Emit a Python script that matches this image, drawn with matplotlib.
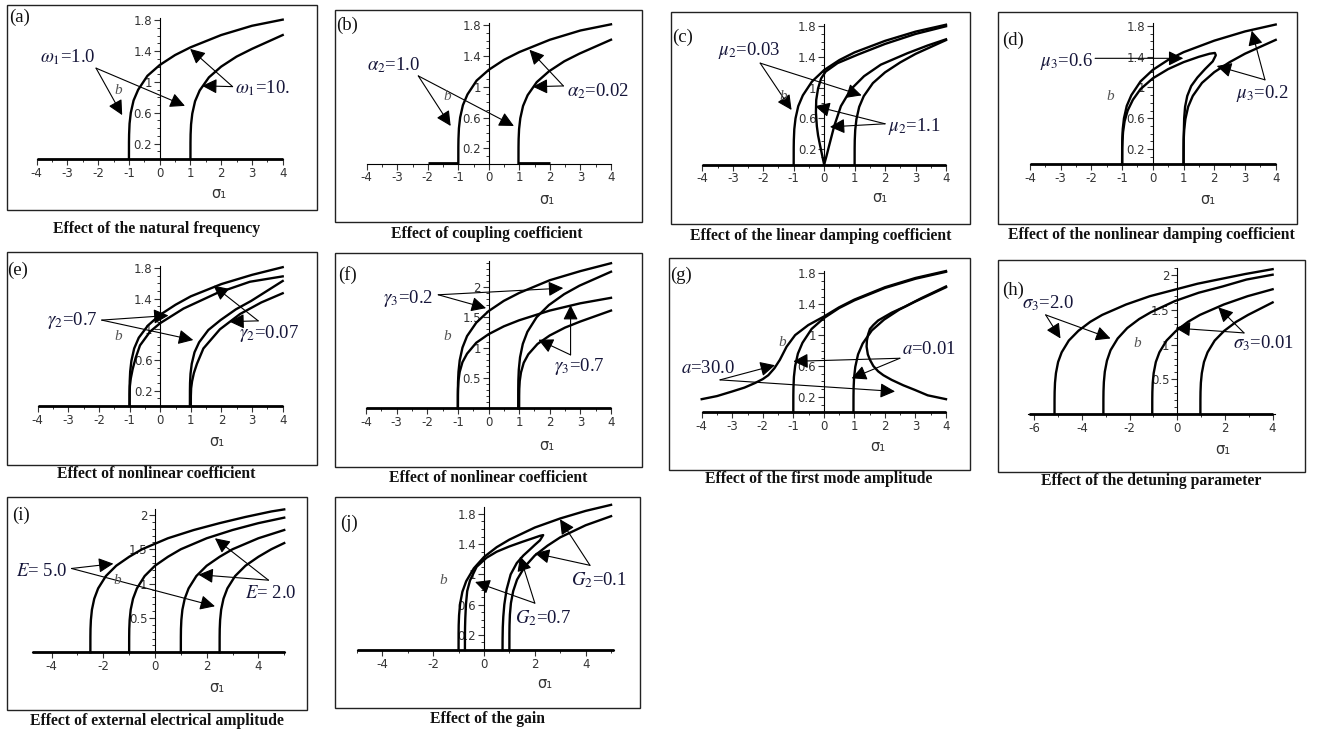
import matplotlib
matplotlib.use('Agg')
import matplotlib.pyplot as plt
from matplotlib.patches import Rectangle
from matplotlib.ticker import MultipleLocator, FixedLocator, FixedFormatter

W, H = 1317, 731
plt.rcParams['mathtext.fontset'] = 'stix'
plt.rcParams['axes.unicode_minus'] = False
plt.rcParams['font.family'] = 'DejaVu Sans'

SERIF = 'Liberation Serif'
INK = '#16163a'
TICK = '#333333'

# ---- frequency response curves, sigma_1 vs b ----
# (a) natural frequency
a_sig_l = [-1.0, -0.999, -0.995, -0.98, -0.94, -0.85, -0.7, -0.4, 0.0, 0.5, 1.0, 2.0, 3.0, 4.0]
a_b_l = [0.0, 0.22, 0.32, 0.46, 0.60, 0.76, 0.90, 1.08, 1.22, 1.35, 1.45, 1.61, 1.73, 1.81]
a_sig_r = [1.0, 1.001, 1.005, 1.02, 1.06, 1.15, 1.3, 1.6, 2.0, 2.5, 3.0, 4.0]
a_b_r = [0.0, 0.21, 0.32, 0.45, 0.59, 0.75, 0.89, 1.06, 1.20, 1.33, 1.43, 1.61]
a_base = [-4.0, 4.0]

# (b) coupling coefficient
b_sig_l = [-1.0, -0.999, -0.995, -0.98, -0.94, -0.85, -0.7, -0.4, 0.0, 0.5, 1.0, 2.0, 3.0, 4.0]
b_b_l = [0.0, 0.22, 0.32, 0.46, 0.60, 0.76, 0.90, 1.08, 1.22, 1.35, 1.45, 1.61, 1.73, 1.81]
b_sig_r = [0.97, 0.971, 0.975, 0.99, 1.03, 1.12, 1.27, 1.57, 1.97, 2.47, 2.97, 4.0]
b_b_r = [0.0, 0.21, 0.32, 0.45, 0.59, 0.75, 0.89, 1.06, 1.20, 1.33, 1.43, 1.61]
b_base_l = [-2.0, -1.0]
b_base_r = [0.97, 2.0]

# (c) linear damping coefficient
c_sig_l = [-1.0, -0.999, -0.995, -0.98, -0.94, -0.85, -0.7, -0.4, 0.0, 0.5, 1.0, 2.0, 3.0, 4.0]
c_b_l = [0.0, 0.22, 0.32, 0.46, 0.60, 0.76, 0.90, 1.08, 1.23, 1.36, 1.46, 1.61, 1.73, 1.82]
c_sig_r = [1.0, 1.001, 1.005, 1.02, 1.06, 1.15, 1.3, 1.6, 2.0, 2.5, 3.0, 4.0]
c_b_r = [0.0, 0.21, 0.32, 0.45, 0.59, 0.75, 0.89, 1.06, 1.20, 1.33, 1.44, 1.62]
c_sig_in_l = [0.0, -0.06, -0.13, -0.2, -0.24, -0.27, -0.26, -0.2, -0.1, 0.05, 0.44, 1.1, 2.0, 3.0, 4.0]
c_b_in_l = [0.0, 0.11, 0.24, 0.38, 0.5, 0.68, 0.84, 0.99, 1.12, 1.21, 1.32, 1.43, 1.57, 1.70, 1.80]
c_sig_in_r = [0.0, 0.07, 0.16, 0.33, 0.55, 0.88, 1.31, 1.86, 2.74, 3.4, 4.0]
c_b_in_r = [0.0, 0.1, 0.24, 0.5, 0.76, 0.98, 1.15, 1.3, 1.45, 1.55, 1.63]
c_base = [-4.0, 4.0]

# (d) nonlinear damping coefficient
d_sig_l = [-1.0, -0.999, -0.995, -0.98, -0.94, -0.85, -0.7, -0.4, 0.0, 0.5, 1.0, 2.0, 3.0, 4.0]
d_b_l = [0.0, 0.22, 0.32, 0.46, 0.60, 0.76, 0.90, 1.08, 1.23, 1.36, 1.46, 1.61, 1.73, 1.82]
d_sig_r = [1.0, 1.001, 1.005, 1.02, 1.06, 1.15, 1.3, 1.6, 2.0, 2.5, 3.0, 4.0]
d_b_r = [0.0, 0.21, 0.32, 0.45, 0.59, 0.75, 0.89, 1.06, 1.20, 1.33, 1.44, 1.62]
d_sig_loop = [-1.0, -0.998, -0.99, -0.97, -0.92, -0.82, -0.65, -0.4, 0.0, 0.5, 1.0, 1.5, 1.85,
              2.02, 2.05, 1.95, 1.7, 1.45, 1.25, 1.12, 1.05, 1.02, 1.005, 1.0]
d_b_loop = [0.0, 0.2, 0.3, 0.42, 0.56, 0.70, 0.84, 0.98, 1.12, 1.24, 1.33, 1.40, 1.44,
            1.45, 1.42, 1.34, 1.24, 1.13, 1.02, 0.89, 0.75, 0.6, 0.35, 0.0]
d_base = [-4.0, 4.0]

# (e) nonlinear coefficient gamma_2
e_sig_l1 = [-1.0, -0.999, -0.995, -0.98, -0.94, -0.85, -0.7, -0.4, 0.0, 0.5, 1.0, 2.0, 3.0, 4.0]
e_b_l1 = [0.0, 0.21, 0.32, 0.45, 0.59, 0.75, 0.89, 1.05, 1.19, 1.32, 1.43, 1.59, 1.71, 1.81]
e_sig_l2 = [-1.0, -0.999, -0.99, -0.96, -0.9, -0.8, -0.66, -0.33, 0.0, 0.76, 1.84, 2.93, 4.0]
e_b_l2 = [0.0, 0.15, 0.26, 0.36, 0.48, 0.63, 0.79, 0.97, 1.08, 1.27, 1.47, 1.62, 1.69]
e_sig_r1 = [0.97, 0.971, 0.975, 0.99, 1.03, 1.12, 1.27, 1.57, 1.97, 2.47, 2.97, 4.0]
e_b_r1 = [0.0, 0.20, 0.30, 0.42, 0.55, 0.70, 0.83, 0.99, 1.12, 1.26, 1.37, 1.63]
e_sig_r2 = [1.0, 1.001, 1.01, 1.04, 1.1, 1.2, 1.41, 1.95, 2.61, 3.3, 4.0]
e_b_r2 = [0.0, 0.13, 0.23, 0.32, 0.43, 0.55, 0.75, 1.0, 1.2, 1.35, 1.47]
e_base = [-4.0, 4.0]

# (f) nonlinear coefficient gamma_3
f_sig_l1 = [-1.0, -0.999, -0.995, -0.98, -0.94, -0.85, -0.7, -0.4, 0.0, 0.5, 1.0, 2.0, 3.0, 4.0]
f_b_l1 = [0.0, 0.28, 0.43, 0.60, 0.79, 1.0, 1.19, 1.41, 1.60, 1.77, 1.90, 2.11, 2.26, 2.39]
f_sig_l2 = [-1.0, -0.999, -0.995, -0.98, -0.94, -0.85, -0.7, -0.4, 0.0, 0.5, 1.0, 2.0, 3.0, 4.0]
f_b_l2 = [0.0, 0.22, 0.32, 0.46, 0.60, 0.76, 0.90, 1.08, 1.22, 1.35, 1.45, 1.61, 1.73, 1.82]
f_sig_r1 = [0.97, 0.971, 0.975, 0.99, 1.03, 1.12, 1.27, 1.57, 1.97, 2.47, 2.97, 4.0]
f_b_r1 = [0.0, 0.30, 0.46, 0.64, 0.84, 1.06, 1.26, 1.50, 1.70, 1.88, 2.02, 2.25]
f_sig_r2 = [1.0, 1.001, 1.005, 1.02, 1.06, 1.15, 1.3, 1.6, 2.0, 2.5, 3.0, 4.0]
f_b_r2 = [0.0, 0.21, 0.32, 0.45, 0.59, 0.75, 0.89, 1.06, 1.20, 1.33, 1.43, 1.61]
f_base = [-4.0, 4.0]

# (g) first mode amplitude
g_sig_l1 = [-1.0, -0.999, -0.995, -0.98, -0.94, -0.85, -0.7, -0.4, 0.0, 0.5, 1.0, 2.0, 3.0, 4.0]
g_b_l1 = [0.0, 0.22, 0.32, 0.46, 0.60, 0.76, 0.90, 1.08, 1.22, 1.35, 1.45, 1.61, 1.73, 1.82]
g_sig_l2 = [-4.0, -3.5, -3.0, -2.6, -2.25, -2.0, -1.82, -1.62, -1.44, -1.22, -0.94, -0.51,
            0.0, 0.5, 1.0, 2.0, 3.0, 4.0]
g_b_l2 = [0.17, 0.21, 0.27, 0.32, 0.38, 0.43, 0.48, 0.57, 0.68, 0.85, 1.0, 1.13,
          1.24, 1.36, 1.46, 1.62, 1.74, 1.83]
g_sig_r1 = [0.97, 0.971, 0.975, 0.99, 1.03, 1.12, 1.27, 1.57, 1.97, 2.47, 2.97, 4.0]
g_b_r1 = [0.0, 0.21, 0.32, 0.45, 0.59, 0.75, 0.89, 1.06, 1.20, 1.33, 1.43, 1.62]
g_sig_r2 = [4.0, 3.4, 2.98, 2.6, 2.22, 1.95, 1.78, 1.62, 1.51, 1.44, 1.4, 1.41, 1.45, 1.51,
            1.62, 1.78, 2.0, 2.22, 2.66, 3.2, 4.0]
g_b_r2 = [0.17, 0.22, 0.29, 0.35, 0.42, 0.48, 0.53, 0.6, 0.68, 0.75, 0.85, 0.93, 1.01, 1.08,
          1.13, 1.19, 1.24, 1.29, 1.37, 1.48, 1.63]
g_base = [-4.0, 4.0]

# (h) detuning parameter sigma_3
h_sig_1 = [-5.15, -5.149, -5.145, -5.13, -5.09, -5.0, -4.85, -4.55, -4.15, -3.65, -3.15,
           -2.15, -1.15, -0.15, 0.85, 1.85, 2.85, 4.0]
h_b_1 = [0.0, 0.21, 0.32, 0.45, 0.59, 0.75, 0.89, 1.06, 1.20, 1.33, 1.43, 1.58, 1.70, 1.79,
         1.88, 1.95, 2.02, 2.09]
h_sig_2 = [-3.1, -3.099, -3.095, -3.08, -3.04, -2.95, -2.8, -2.5, -2.1, -1.6, -1.1, -0.1,
           0.9, 1.9, 2.9, 4.0]
h_b_2 = [0.0, 0.22, 0.33, 0.46, 0.61, 0.77, 0.92, 1.09, 1.24, 1.37, 1.47, 1.63, 1.75, 1.84,
         1.94, 2.01]
h_sig_3 = [-1.05, -1.049, -1.045, -1.03, -0.99, -0.9, -0.75, -0.45, -0.05, 0.45, 0.95, 1.95,
           2.95, 4.0]
h_b_3 = [0.0, 0.21, 0.32, 0.45, 0.59, 0.75, 0.89, 1.06, 1.20, 1.33, 1.43, 1.58, 1.70, 1.80]
h_sig_4 = [0.97, 0.971, 0.975, 0.99, 1.03, 1.12, 1.27, 1.57, 1.97, 2.47, 2.97, 4.0]
h_b_4 = [0.0, 0.21, 0.32, 0.45, 0.59, 0.75, 0.89, 1.06, 1.20, 1.33, 1.43, 1.61]
h_base = [-6.2, 4.0]

# (i) external electrical amplitude
i_sig_1 = [-2.5, -2.499, -2.495, -2.48, -2.44, -2.35, -2.2, -1.9, -1.5, -1.0, -0.5, 0.5, 1.5,
           2.5, 3.5, 4.5, 5.0]
i_b_1 = [0.0, 0.22, 0.34, 0.47, 0.62, 0.78, 0.93, 1.11, 1.26, 1.39, 1.50, 1.66, 1.78, 1.88,
         1.97, 2.05, 2.08]
i_sig_2 = [-1.0, -0.999, -0.995, -0.98, -0.94, -0.85, -0.7, -0.4, 0.0, 0.5, 1.0, 2.0, 3.0, 4.0, 5.0]
i_b_2 = [0.0, 0.22, 0.34, 0.47, 0.62, 0.78, 0.93, 1.11, 1.26, 1.39, 1.50, 1.66, 1.78, 1.88, 1.96]
i_sig_3 = [1.0, 1.001, 1.005, 1.02, 1.06, 1.15, 1.3, 1.6, 2.0, 2.5, 3.0, 4.0, 5.0]
i_b_3 = [0.0, 0.22, 0.34, 0.47, 0.62, 0.78, 0.93, 1.11, 1.26, 1.39, 1.50, 1.66, 1.78]
i_sig_4 = [2.5, 2.501, 2.505, 2.52, 2.56, 2.65, 2.8, 3.1, 3.5, 4.0, 4.5, 5.0]
i_b_4 = [0.0, 0.22, 0.34, 0.47, 0.62, 0.78, 0.93, 1.11, 1.26, 1.39, 1.50, 1.59]
i_base = [-4.77, 5.03]

# (j) gain G_2
j_sig_l = [-1.0, -0.999, -0.995, -0.98, -0.94, -0.85, -0.7, -0.4, 0.0, 0.5, 1.0, 2.0, 3.0, 4.0, 5.0]
j_b_l = [0.0, 0.22, 0.33, 0.46, 0.61, 0.77, 0.91, 1.08, 1.23, 1.36, 1.46, 1.62, 1.74, 1.84, 1.92]
j_sig_r = [1.0, 1.001, 1.005, 1.02, 1.06, 1.15, 1.3, 1.6, 2.0, 2.5, 3.0, 4.0, 5.0]
j_b_r = [0.0, 0.22, 0.33, 0.47, 0.62, 0.78, 0.93, 1.10, 1.25, 1.38, 1.49, 1.65, 1.77]
j_sig_loop = [-0.75, -0.749, -0.745, -0.735, -0.71, -0.66, -0.55, -0.29, 0.1, 0.5, 1.0, 1.5,
              1.94, 2.2, 2.33, 2.2, 2.0, 1.81, 1.55, 1.29, 1.05, 0.89, 0.8, 0.76, 0.74,
              0.732, 0.73]
j_b_loop = [0.0, 0.2, 0.3, 0.42, 0.6, 0.78, 0.92, 1.1, 1.22, 1.30, 1.37, 1.43,
            1.48, 1.51, 1.52, 1.45, 1.39, 1.33, 1.25, 1.15, 1.0, 0.8, 0.6, 0.44, 0.3,
            0.15, 0.0]
j_base = [-5.0, 5.1]

# axis tick labels
x_int = [-4, -3, -2, -1, 0, 1, 2, 3, 4]
x_even6 = [-6, -4, -2, 0, 2, 4]
x_even4 = [-4, -2, 0, 2, 4]
y_t18 = [0.2, 0.6, 1.0, 1.4, 1.8]
y_l18 = ['0.2', '0.6', '1', '1.4', '1.8']
y_t2 = [0.5, 1.0, 1.5, 2.0]
y_l2 = ['0.5', '1', '1.5', '2']

captions = ['Effect of the natural frequency', 'Effect of coupling coefficient',
            'Effect of the linear damping coefficient',
            'Effect of the nonlinear damping coefficient',
            'Effect of nonlinear coefficient', 'Effect of nonlinear coefficient',
            'Effect of the first mode amplitude', 'Effect of the detuning parameter',
            'Effect of external electrical amplitude', 'Effect of the gain']
tags = ['(a)', '(b)', '(c)', '(d)', '(e)', '(f)', '(g)', '(h)', '(i)', '(j)']

fig = plt.figure(figsize=(W / 100, H / 100), dpi=100)


def fx(x):
    return x / W


def fy(y):
    return 1 - y / H


def frame(x0, y0, x1, y1, tag, tag_xy, caption, cap_xy, sig_xy, b_xy):
    fig.add_artist(Rectangle((fx(x0), fy(y1)), (x1 - x0) / W, (y1 - y0) / H,
                             transform=fig.transFigure, fill=False, lw=1.0, ec='#222222'))
    fig.text(fx(tag_xy[0]), fy(tag_xy[1]), tag, family=SERIF, fontsize=13.5,
             ha='left', va='center', color='#111111')
    fig.text(fx(cap_xy[0]), fy(cap_xy[1]), caption, family=SERIF, fontsize=11.3,
             fontweight='bold', ha='center', va='center', color='#111111')
    fig.text(fx(sig_xy[0]), fy(sig_xy[1]), 'σ₁', fontsize=10.5, ha='center', va='center',
             color=TICK)
    fig.text(fx(b_xy[0]), fy(b_xy[1]), 'b', family=SERIF, style='italic', fontsize=11,
             ha='center', va='center', color='#555555')


def panel(xlim, px0, px1, py0, unit, ytop, xmaj, xminor, yt, yl):
    ax = fig.add_axes([fx(px0), fy(py0), (px1 - px0) / W, ytop * unit / H])
    ax.set_xlim(*xlim)
    ax.set_ylim(0, ytop)
    ax.patch.set_visible(False)
    for s in ('top', 'right'):
        ax.spines[s].set_visible(False)
    ax.spines['left'].set_position(('data', 0))
    ax.spines['bottom'].set_position(('data', 0))
    ax.spines['left'].set_linewidth(0.8)
    ax.spines['bottom'].set_linewidth(0.8)
    ax.xaxis.set_major_locator(FixedLocator(xmaj))
    ax.xaxis.set_minor_locator(MultipleLocator(xminor))
    ax.yaxis.set_major_locator(FixedLocator(yt))
    ax.yaxis.set_major_formatter(FixedFormatter(yl))
    ax.yaxis.set_minor_locator(MultipleLocator(0.1))
    ax.tick_params(which='major', length=4, width=0.8, labelsize=8.5, colors=TICK, pad=1.5)
    ax.tick_params(which='minor', length=2.2, width=0.7, colors=TICK)
    return ax


def curve(ax, s, b):
    ax.plot(s, b, color='black', lw=1.7, clip_on=False, solid_joinstyle='round')


def base(ax, s, level=0.0):
    ax.plot(s, [level] * len(s), color='black', lw=2.0, clip_on=False, solid_capstyle='butt')


def label(ax, text, pos, origin, tips):
    ax.text(pos[0], pos[1], text, family=SERIF, fontsize=13.5, color=INK,
            ha='left', va='center', clip_on=False)
    for t in tips:
        ax.annotate('', xy=t, xytext=origin, annotation_clip=False,
                    arrowprops=dict(arrowstyle='-|>,head_length=0.6,head_width=0.3',
                                    mutation_scale=15, color='black', lw=0.8,
                                    shrinkA=0, shrinkB=0))


# (a)
frame(7, 5, 317, 210, tags[0], (9, 17), captions[0], (157, 229), (219, 193), (118, 90))
ax = panel((-4, 4), 36.7, 282.7, 159, 77, 1.83, x_int, 0.5, y_t18, y_l18)
base(ax, a_base)
curve(ax, a_sig_l, a_b_l)
curve(ax, a_sig_r, a_b_r)
label(ax, r'$\omega_1$=1.0', (-3.89, 1.32), (-2.07, 1.18), [(-1.22, 0.57), (0.82, 0.69)])
label(ax, r'$\omega_1$=10.', (2.45, 0.92), (2.37, 0.94), [(0.99, 1.43), (1.38, 0.95)])

# (b)
frame(335, 10, 642, 222, tags[1], (336, 25), captions[1], (487, 234), (547, 200), (447, 97))
ax = panel((-4, 4), 366.7, 611, 163.7, 77, 1.83, x_int, 0.5, y_t18, y_l18)
base(ax, b_base_l, 0.012)
base(ax, b_base_r, 0.012)
curve(ax, b_sig_l, b_b_l)
curve(ax, b_sig_r, b_b_r)
label(ax, r'$\alpha_2$=1.0', (-3.98, 1.28), (-2.31, 1.14), [(-1.25, 0.49), (0.82, 0.49)])
label(ax, r'$\alpha_2$=0.02', (2.57, 0.94), (2.44, 1.01), [(1.33, 1.48), (1.44, 1.0)])

# (c)
frame(671, 12, 970, 224, tags[2], (672, 37), captions[2], (821, 236), (880, 198), (783, 97))
ax = panel((-4, 4), 702.3, 946, 164.5, 76.8, 1.83, x_int, 0.5, y_t18, y_l18)
base(ax, c_base)
curve(ax, c_sig_l, c_b_l)
curve(ax, c_sig_r, c_b_r)
curve(ax, c_sig_in_l, c_b_in_l)
curve(ax, c_sig_in_r, c_b_in_r)
label(ax, r'$\mu_2$=0.03', (-3.47, 1.49), (-2.1, 1.32), [(-1.07, 0.71), (1.23, 0.90)])
label(ax, r'$\mu_2$=1.1', (2.1, 0.49), (2.0, 0.53), [(-0.3, 0.76), (0.19, 0.49)])

# (d)
frame(998, 12, 1297, 224, tags[3], (1002, 40), captions[3], (1151, 235), (1208, 200), (1110, 97))
ax = panel((-4, 4), 1030, 1275.7, 164.3, 76.8, 1.84, x_int, 0.5, y_t18, y_l18)
base(ax, d_base)
curve(ax, d_sig_l, d_b_l)
curve(ax, d_sig_r, d_b_r)
curve(ax, d_sig_loop, d_b_loop)
label(ax, r'$\mu_3$=0.6', (-3.68, 1.34), (-1.88, 1.38), [(0.99, 1.38)])
label(ax, r'$\mu_3$=0.2', (2.7, 0.92), (3.65, 1.10), [(3.22, 1.74), (2.08, 1.28)])

# (e)
frame(7, 252, 317, 465, tags[4], (7, 270), captions[4], (156, 474), (217, 442), (118, 337))
ax = panel((-4, 4), 37.7, 282.7, 406, 76.7, 1.83, x_int, 0.5, y_t18, y_l18)
base(ax, e_base)
curve(ax, e_sig_l1, e_b_l1)
curve(ax, e_sig_l2, e_b_l2)
curve(ax, e_sig_r1, e_b_r1)
curve(ax, e_sig_r2, e_b_r2)
label(ax, r'$\gamma_2$=0.7', (-3.7, 1.12), (-1.91, 1.12), [(0.27, 1.18), (1.08, 0.86)])
label(ax, r'$\gamma_2$=0.07', (2.58, 0.94), (3.2, 1.11), [(1.74, 1.57), (2.26, 1.10)])

# (f)
frame(335, 253, 642, 467, tags[5], (338, 275), captions[5], (488, 478), (547, 445), (447, 337))
ax = panel((-4, 4), 366, 611, 408.3, 60.7, 2.42, x_int, 0.5, y_t2, y_l2)
base(ax, f_base)
curve(ax, f_sig_l1, f_b_l1)
curve(ax, f_sig_l2, f_b_l2)
curve(ax, f_sig_r1, f_b_r1)
curve(ax, f_sig_r2, f_b_r2)
label(ax, r'$\gamma_3$=0.2', (-3.43, 1.81), (-1.64, 1.87), [(2.44, 1.98), (-0.08, 1.65)])
label(ax, r'$\gamma_3$=0.7', (2.14, 0.69), (2.68, 0.88), [(2.68, 1.70), (1.63, 1.13)])

# (g)
frame(669, 258, 970, 470, tags[6], (670, 275), captions[6], (819, 479), (878, 447), (782, 342))
ax = panel((-4, 4), 701.7, 946, 412.3, 77.2, 1.83, x_int, 0.5, y_t18, y_l18)
base(ax, g_base)
curve(ax, g_sig_l1, g_b_l1)
curve(ax, g_sig_l2, g_b_l2)
curve(ax, g_sig_r1, g_b_r1)
curve(ax, g_sig_r2, g_b_r2)
label(ax, r'$a$=30.0', (-4.67, 0.57), (-3.4, 0.42), [(-1.6, 0.61), (2.33, 0.27)])
label(ax, r'$a$=0.01', (2.55, 0.81), (2.49, 0.70), [(-1.0, 0.66), (0.91, 0.44)])

# (h)
frame(998, 260, 1305, 472, tags[7], (1002, 290), captions[7], (1151, 481), (1223, 450), (1137, 343))
ax = panel((-6.25, 4.1), 1028.3, 1275, 414, 69.3, 2.1, x_even6, 1, y_t2, y_l2)
base(ax, h_base)
curve(ax, h_sig_1, h_b_1)
curve(ax, h_sig_2, h_b_2)
curve(ax, h_sig_3, h_b_3)
curve(ax, h_sig_4, h_b_4)
label(ax, r'$\sigma_3$=2.0', (-6.5, 1.6), (-5.52, 1.43), [(-4.9, 1.09), (-2.8, 1.09)])
label(ax, r'$\sigma_3$=0.01', (2.34, 1.02), (2.8, 1.17), [(1.72, 1.54), (-0.07, 1.24)])

# (i)
frame(7, 497, 307, 710, tags[8], (12, 515), captions[8], (157, 721), (217, 687), (117, 580))
ax = panel((-4.77, 5.03), 31.7, 285, 652.3, 68.7, 2.09, x_even4, 1, y_t2, y_l2)
base(ax, i_base)
curve(ax, i_sig_1, i_b_1)
curve(ax, i_sig_2, i_b_2)
curve(ax, i_sig_3, i_b_3)
curve(ax, i_sig_4, i_b_4)
label(ax, r'$E$= 5.0', (-5.38, 1.17), (-3.23, 1.22), [(-1.61, 1.29), (2.32, 0.67)])
label(ax, r'$E$= 2.0', (3.48, 0.86), (4.39, 1.05), [(2.32, 1.66), (1.68, 1.13)])

# (j)
frame(335, 497, 640, 708, tags[9], (340, 523), captions[9], (488, 719), (545, 683), (443, 580))
ax = panel((-5, 5.1), 356.9, 613.6, 650, 75.6, 1.89, x_even4, 1, y_t18, y_l18)
base(ax, j_base)
curve(ax, j_sig_l, j_b_l)
curve(ax, j_sig_r, j_b_r)
curve(ax, j_sig_loop, j_b_loop)
label(ax, r'$G_2$=0.1', (3.41, 0.93), (4.17, 1.12), [(2.99, 1.73), (2.0, 1.28)])
label(ax, r'$G_2$=0.7', (1.22, 0.42), (2.0, 0.62), [(-0.35, 0.9), (1.42, 1.24)])

fig.savefig('out.png', dpi=100, facecolor='white')
